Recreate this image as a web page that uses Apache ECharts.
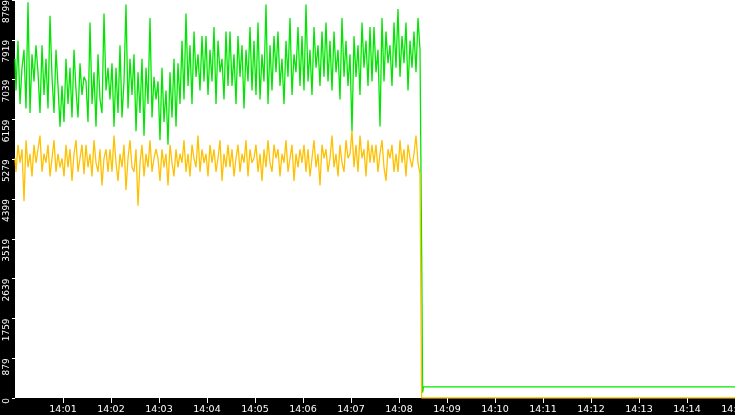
<!DOCTYPE html>
<html>
<head>
<meta charset="utf-8">
<script src="https://cdn.jsdelivr.net/npm/echarts@6/dist/echarts.min.js"></script>
<style>
  html, body { margin: 0; padding: 0; background: #000; }
  #chart { width: 735px; height: 415px; }
</style>
</head>
<body>
<div id="chart"></div>
<script>
// seconds after 14:00, one sample every 2.5 s
var sampleStep = 2.5;

var greenValues = [
  7500,6800,7900,6500,7300,7700,6400,8750,6300,7600,7000,7800,
  7200,6300,7800,6700,7500,6400,8450,7100,6300,7700,6900,6000,
  6900,6100,7500,6500,7300,6200,7700,6800,6200,7400,6700,7100,
  7000,6100,8300,6500,7200,6000,7600,6600,6300,8500,6800,7300,
  6600,7400,6000,7300,6300,7800,6200,7000,8700,6400,7500,6700,
  7600,5900,7200,6300,7500,5800,7300,6500,8400,6200,7100,6600,
  7000,5700,7300,6100,6800,5600,7200,6200,7500,6000,7400,6500,
  7900,6600,8500,6900,7800,6500,8100,7100,7600,6800,8000,7000,
  8000,6700,7700,7000,8200,6500,7900,7200,7500,6600,8100,6900,
  8100,6900,7600,6500,8000,7100,7800,6400,7700,7000,8200,6800,
  7900,6700,8300,6600,7600,7000,8700,6500,7800,6800,8000,7200,
  8100,6900,7500,6500,7900,7100,8400,6700,7600,7200,8200,6900,
  8000,6800,8700,7000,7700,6700,8200,7300,7800,6900,8100,7100,
  8300,7000,7900,6800,8100,7200,7700,6600,8400,7100,7900,6900,
  7600,5900,8000,7100,7800,6700,8300,7300,7900,6900,8200,7000,
  8200,7200,7700,6000,8400,7000,8100,7400,7800,6900,8300,7300,
  8600,7100,8000,7400,8300,6800,7900,7300,8100,7200,8400,7700
];

var yellowValues = [
  5300,5000,5600,5200,5500,4350,5700,5100,5400,4900,5600,5200,
  5500,5800,5000,5400,5200,5600,4900,5300,5700,5000,5400,5100,
  5300,4900,5600,5100,5500,4800,5400,5700,5000,5300,5600,4950,
  5600,5100,5400,4900,5700,5200,5000,5500,4700,5300,5500,5000,
  5500,5000,5800,5200,4800,5400,5100,5600,4600,5300,5700,5100,
  5000,5500,4250,5200,5600,4900,5400,5100,5700,5000,5300,5500,
  5300,4800,5500,5100,5400,4700,5600,5200,4900,5500,5100,5400,
  5200,5700,5000,5400,4900,5600,5300,5100,5800,5000,5500,5200,
  5400,4900,5600,5200,5500,5000,5300,5700,4800,5400,5100,5600,
  5100,5500,4900,5300,5600,5000,5400,5200,5700,4900,5500,5200,
  5300,5600,5000,5400,4800,5500,5100,5700,5200,5000,5600,5300,
  5500,4900,5400,5200,5700,5000,5300,5600,4800,5400,5100,5500,
  5200,5600,5000,5500,4900,5300,5700,5100,5400,4700,5600,5300,
  5500,5000,5300,5800,5100,5400,4900,5600,5200,5000,5700,5300,
  5400,5900,5100,5600,5000,5800,5300,5500,4900,5700,5200,5600,
  5200,5600,5000,5400,5700,5100,4800,5500,5300,5600,5000,5400,
  5000,5700,5200,5500,4900,5600,5300,5100,5400,5800,5200,4950
];

// after the drop
var greenTailTimes = [508.5, 509, 510, 511, 900];
var greenTailValues = [3900, 2200, 120, 245, 245];
var yellowTailTimes = [509, 900];
var yellowTailValues = [0, 0];

var yTickLabels = ['0','879','1759','2639','3519','4399','5279','6159','7039','7919','8799'];

function build(values, tailTimes, tailValues) {
  var out = values.map(function (v, i) { return [i * sampleStep, v]; });
  tailTimes.forEach(function (t, i) { out.push([t, tailValues[i]]); });
  return out;
}

var myChart = echarts.init(document.getElementById('chart'));

var option = {
  animation: false,
  backgroundColor: '#000',
  grid: {
    left: 15, right: 0, top: 0, height: 398,
    containLabel: false, outerBoundsMode: 'none',
    show: true, backgroundColor: '#fff', borderWidth: 0
  },
  xAxis: {
    type: 'value',
    min: 0, max: 900, interval: 60,
    splitLine: { show: false },
    axisLine: { show: false },
    axisTick: { show: true, length: 5, lineStyle: { color: '#fff', width: 1 } },
    axisLabel: {
      color: '#fff', fontFamily: 'DejaVu Sans', fontSize: 9.5, margin: 7,
      showMinLabel: false, showMaxLabel: true, hideOverlap: false,
      formatter: function (v) {
        var m = Math.round(v / 60);
        return '14:' + (m < 10 ? '0' + m : m);
      }
    }
  },
  yAxis: {
    type: 'value',
    min: 0, max: 8799, interval: 879.9,
    splitLine: { show: false },
    axisLine: { show: false },
    axisTick: { show: true, length: 3, lineStyle: { color: '#fff', width: 1 } },
    axisLabel: {
      color: '#fff', fontFamily: 'DejaVu Sans', fontSize: 9, margin: 8,
      rotate: 90, align: 'right', verticalAlign: 'middle',
      formatter: function (v) {
        return yTickLabels[Math.round(v / 879.9)];
      }
    }
  },
  series: [
    {
      type: 'line',
      step: 'middle',
      data: build(greenValues, greenTailTimes, greenTailValues),
      showSymbol: false,
      lineStyle: { color: '#00e600', width: 1.3 },
      itemStyle: { color: '#00e600' }
    },
    {
      type: 'line',
      step: 'middle',
      data: build(yellowValues, yellowTailTimes, yellowTailValues),
      showSymbol: false,
      lineStyle: { color: '#ffc000', width: 1.3 },
      itemStyle: { color: '#ffc000' }
    }
  ]
};

myChart.setOption(option);
</script>
</body>
</html>
